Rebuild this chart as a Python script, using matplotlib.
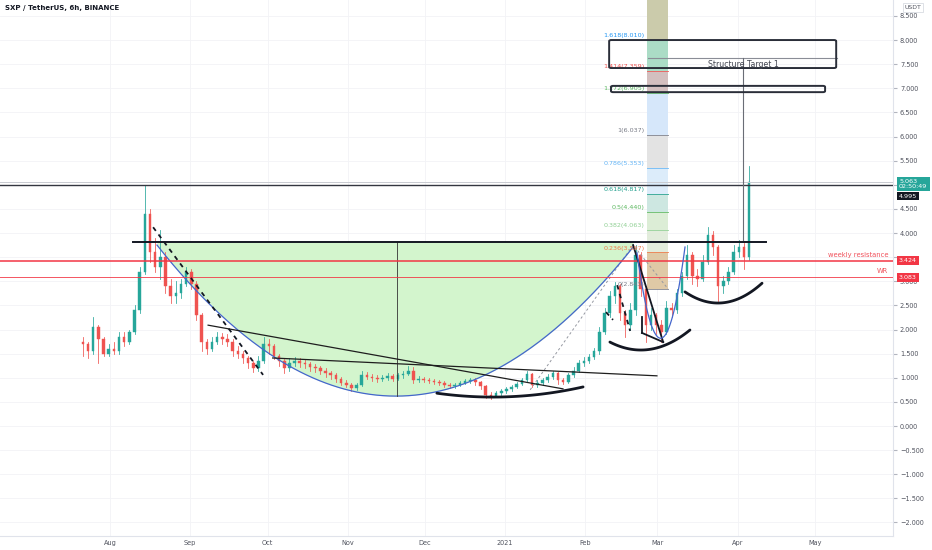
import matplotlib
matplotlib.use("Agg")
import matplotlib.pyplot as plt
import matplotlib.dates as mdates
from matplotlib.patches import Rectangle, FancyBboxPatch
from matplotlib.transforms import blended_transform_factory
import numpy as np
import pandas as pd

# ---------------- data ----------------
title = "SXP / TetherUS, 6h, BINANCE"
candle_start = "2020-07-21"
candle_days = 2
first_open = 1.75
closes = [1.70, 1.55, 2.05, 1.80, 1.50, 1.60, 1.55, 1.85, 1.75, 1.95,
          2.40, 3.20, 4.40, 3.60, 3.30, 3.50, 2.90, 2.70, 2.75, 2.95,
          3.20, 2.95, 2.30, 1.75, 1.60, 1.75, 1.85, 1.80, 1.75, 1.55,
          1.50, 1.40, 1.30, 1.20, 1.35, 1.70, 1.65, 1.45, 1.35, 1.20,
          1.30, 1.35, 1.30, 1.28, 1.22, 1.20, 1.15, 1.10, 1.05, 0.98,
          0.90, 0.85, 0.78, 0.85, 1.05, 1.02, 1.00, 0.98, 1.00, 1.04,
          0.98, 1.05, 1.08, 1.15, 0.95, 0.98, 0.96, 0.94, 0.92, 0.90,
          0.86, 0.82, 0.86, 0.90, 0.93, 0.96, 0.92, 0.82, 0.64, 0.62,
          0.68, 0.72, 0.76, 0.81, 0.88, 0.95, 1.08, 0.84, 0.90, 0.96,
          1.02, 1.10, 0.95, 0.92, 1.05, 1.15, 1.30, 1.35, 1.42, 1.55,
          1.95, 2.35, 2.70, 2.90, 2.35, 2.10, 2.40, 3.55, 2.85, 2.10,
          2.30, 2.10, 1.95, 2.45, 2.40, 2.75, 3.10, 3.55, 3.10, 3.05,
          3.40, 3.95, 3.70, 2.90, 3.00, 3.20, 3.60, 3.70, 3.50, 5.063]
highs = [1.85, 1.75, 2.26, 2.10, 1.85, 1.70, 1.75, 1.95, 1.95, 2.00,
         2.50, 3.30, 4.99, 4.50, 3.90, 4.06, 3.60, 3.05, 3.00, 3.05,
         3.30, 3.25, 3.00, 2.35, 1.80, 1.85, 1.95, 1.92, 1.90, 1.80,
         1.65, 1.55, 1.45, 1.35, 1.45, 1.85, 1.80, 1.70, 1.50, 1.38,
         1.40, 1.42, 1.40, 1.36, 1.32, 1.28, 1.25, 1.20, 1.15, 1.10,
         1.02, 0.95, 0.90, 0.90, 1.15, 1.12, 1.08, 1.06, 1.05, 1.10,
         1.08, 1.10, 1.15, 1.25, 1.22, 1.03, 1.02, 1.00, 0.98, 0.96,
         0.93, 0.89, 0.90, 0.94, 0.97, 1.00, 0.99, 0.94, 0.84, 0.70,
         0.72, 0.76, 0.80, 0.85, 0.92, 1.00, 1.15, 1.10, 0.95, 1.00,
         1.08, 1.15, 1.12, 0.99, 1.10, 1.22, 1.36, 1.42, 1.50, 1.62,
         2.05, 2.45, 2.80, 2.98, 2.95, 2.40, 2.55, 3.75, 3.60, 2.90,
         2.45, 2.35, 2.20, 2.60, 2.55, 2.85, 3.20, 3.75, 3.60, 3.25,
         3.55, 4.12, 4.05, 3.75, 3.10, 3.30, 3.75, 3.85, 3.80, 5.39]
lows = [1.45, 1.40, 1.50, 1.30, 1.45, 1.45, 1.50, 1.50, 1.65, 1.70,
        1.90, 2.35, 3.15, 3.40, 3.20, 3.05, 2.75, 2.55, 2.55, 2.65,
        2.90, 2.85, 2.20, 1.55, 1.50, 1.55, 1.70, 1.70, 1.65, 1.45,
        1.40, 1.30, 1.20, 1.12, 1.15, 1.30, 1.50, 1.38, 1.25, 1.10,
        1.15, 1.25, 1.22, 1.20, 1.15, 1.12, 1.08, 1.02, 0.98, 0.92,
        0.85, 0.80, 0.72, 0.74, 0.82, 0.98, 0.94, 0.92, 0.93, 0.96,
        0.93, 0.95, 1.00, 1.05, 0.90, 0.92, 0.91, 0.89, 0.87, 0.85,
        0.80, 0.78, 0.79, 0.83, 0.87, 0.90, 0.86, 0.76, 0.58, 0.57,
        0.60, 0.65, 0.69, 0.73, 0.78, 0.85, 0.92, 0.80, 0.80, 0.86,
        0.92, 0.98, 0.88, 0.87, 0.90, 1.02, 1.12, 1.25, 1.30, 1.38,
        1.50, 1.90, 2.25, 2.55, 2.20, 1.85, 2.00, 2.30, 2.70, 1.75,
        2.00, 1.90, 1.75, 1.90, 2.25, 2.35, 2.70, 3.05, 2.95, 2.90,
        3.00, 3.35, 3.55, 2.60, 2.75, 2.95, 3.15, 3.50, 3.25, 3.45]

month_ticks = ["2020-08-01", "2020-09-01", "2020-10-01", "2020-11-01", "2020-12-01",
               "2021-01-01", "2021-02-01", "2021-03-01", "2021-04-01", "2021-05-01"]
month_labels = ["Aug", "Sep", "Oct", "Nov", "Dec", "2021", "Feb", "Mar", "Apr", "May"]
y_ticks = [-2.0, -1.5, -1.0, -0.5, 0.0, 0.5, 1.0, 1.5, 2.0, 2.5, 3.0, 3.5, 4.0,
           4.5, 5.0, 5.5, 6.0, 6.5, 7.0, 7.5, 8.0, 8.5]
hidden_ticks = [3.5, 5.0]          # covered by the price labels in the original
x_range = ("2020-06-19 10:00", "2021-05-31 05:00")
y_range = (-2.28, 8.83)

last_price = 5.063
countdown = "02:50:49"
ath_level = 4.995
weekly_res = 3.424
wr_level = 3.083
neckline = 3.81
neck_dates = ("2020-08-10", "2021-04-12")

cup_pts = [("2020-08-19 05:00", 3.75), ("2020-11-20 00:00", 0.62), ("2021-02-19 14:00", 3.71)]
cup_mid_line = ("2020-11-20", 3.81, 0.62)
small_cup_pts = [("2021-02-21 02:00", 3.59), ("2021-03-02 00:00", 1.82), ("2021-03-11 16:00", 3.71)]
base_arcs = [
    [("2020-12-05 14:00", 0.68), ("2020-12-26 05:00", 0.60), ("2021-01-31 05:00", 0.81)],
    [("2021-02-10 14:00", 1.74), ("2021-02-22 07:00", 1.575), ("2021-03-13 14:00", 1.99)],
    [("2021-03-11 16:00", 2.78), ("2021-03-25 07:00", 2.55), ("2021-04-10 12:00", 2.96)],
]
solid_lines = [
    [("2020-09-08", 2.09), ("2021-01-23 10:00", 0.77)],
    [("2020-10-03", 1.41), ("2021-02-28 19:00", 1.04)],
]
thick_lines = [
    [("2021-02-19 14:00", 3.75), ("2021-03-03 05:00", 1.74)],
    [("2021-02-23 00:00", 1.93), ("2021-03-03 05:00", 1.74)],
    [("2021-02-23 00:00", 2.26), ("2021-02-23 00:00", 1.93)],
]
dashed_black = [
    [("2020-08-17 17:00", 4.12), ("2020-09-29 07:00", 1.06)],
    [("2021-02-13 10:00", 2.92), ("2021-02-18 10:00", 1.97)],
    [("2021-02-09 02:00", 2.36), ("2021-02-11 19:00", 2.20)],
]
fib_trend = [("2021-01-10 17:00", 0.75), ("2021-02-19 14:00", 3.75), ("2021-03-05 02:00", 2.843)]

fib_box_dates = ("2021-02-24 19:00", "2021-03-05 02:00")
fib_ratios = ["0", "0.236", "0.382", "0.5", "0.618", "0.786", "1", "1.272", "1.414", "1.618", "2.618"]
fib_values = [2.843, 3.597, 4.063, 4.440, 4.817, 5.353, 6.037, 6.905, 7.359, 8.010, 11.205]
fib_text_colors = ["#787b86", "#ef7a4a", "#8fcf93", "#5cb860", "#1f9e8c", "#64b5f6",
                   "#787b86", "#5cb860", "#ef5350", "#2196f3", "#ef5350"]
fib_band_colors = ["#dfc9a6", "#e2ecdc", "#dcedd6", "#cde7e1", "#dcecfa",
                   "#e3e3e3", "#d6e7fa", "#d3bfbf", "#abdcc6", "#cbcbab"]

target_rects = [(("2021-02-10 07:00", 7.42), ("2021-05-09 05:00", 8.00)),
                (("2021-02-11 00:00", 6.92), ("2021-05-04 22:00", 7.05))]
target_line = ("2021-02-25 10:00", "2021-05-09 14:00", 7.627)
target_vline = ("2021-04-03 05:00", 7.627, 3.85)
target_text = ("Structure Target 1", "2021-04-03 05:00", 7.50)


def D(s):
    return mdates.date2num(pd.Timestamp(s))


def pts(lst):
    return [D(d) for d, _ in lst], [p for _, p in lst]


# ---------------- figure ----------------
W, H = 932, 550
fig = plt.figure(figsize=(W / 100, H / 100), dpi=100)
fig.patch.set_facecolor("white")
ax = fig.add_axes([0, 1 - 536 / H, 893 / W, 536 / H])
ax.set_xlim(D(x_range[0]), D(x_range[1]))
ax.set_ylim(*y_range)

# grid
for m in month_ticks:
    ax.axvline(D(m), color="#f2f3f6", lw=0.6, zorder=0)
for yt in y_ticks:
    ax.axhline(yt, color="#f2f3f6", lw=0.6, zorder=0)

# cup arc (parabola through three points) and fill up to the neckline
cx, cy = pts(cup_pts)
coef = np.polyfit(cx, cy, 2)
xs = np.linspace(cx[0], cx[-1], 300)
ys = np.polyval(coef, xs)
ax.fill_between(xs, ys, neckline, color="#d3f5cd", lw=0, zorder=1)
ax.plot(xs, ys, color="#4466cc", lw=0.9, zorder=4)
ax.plot([D(cup_mid_line[0])] * 2, cup_mid_line[1:], color="#333333", lw=0.6, zorder=4)

# fib box
fx0, fx1 = D(fib_box_dates[0]), D(fib_box_dates[1])
for i in range(len(fib_values) - 1):
    ax.add_patch(Rectangle((fx0, fib_values[i]), fx1 - fx0, fib_values[i + 1] - fib_values[i],
                           facecolor=fib_band_colors[i], edgecolor="none", zorder=1.5))
for i in range(len(fib_values) - 1):
    ax.plot([fx0, fx1], [fib_values[i]] * 2, color=fib_text_colors[i], lw=0.7, alpha=0.8, zorder=1.6)
    ax.annotate(f"{fib_ratios[i]}({fib_values[i]:.3f})", xy=(fx0, fib_values[i]),
                xytext=(-2, 4), textcoords="offset pixels", ha="right", va="center",
                fontsize=4.6, color=fib_text_colors[i], zorder=5)
ftx, fty = pts(fib_trend)
ax.plot(ftx, fty, color="#9598a1", lw=0.7, ls=(0, (2.5, 2.5)), zorder=3.5)

# candles
t0 = D(candle_start)
opens = [first_open] + closes[:-1]
for i, (o, h, l, c) in enumerate(zip(opens, highs, lows, closes)):
    x = t0 + candle_days * i + 0.5
    col = "#26a69a" if c >= o else "#ef5350"
    ax.plot([x, x], [l, h], color=col, lw=0.55, zorder=3)
    ax.add_patch(Rectangle((x - 0.5, min(o, c)), 1.0, max(abs(c - o), 0.01),
                           facecolor=col, edgecolor=col, lw=0.3, zorder=3))

# horizontal levels
ax.axhline(last_price, color="#c9cbd1", lw=0.7, zorder=4)
ax.axhline(ath_level, color="#333640", lw=1.0, zorder=4)
ax.axhline(weekly_res, color="#f23645", lw=1.1, zorder=4)
ax.axhline(wr_level, color="#f23645", lw=0.7, alpha=0.85, zorder=4)
ax.plot([D(neck_dates[0]), D(neck_dates[1])], [neckline] * 2, color="#131722", lw=1.4, zorder=4)

# trend lines
for ln in solid_lines:
    lx, ly = pts(ln)
    ax.plot(lx, ly, color="#1e1e1e", lw=0.9, zorder=4)
for ln in thick_lines:
    lx, ly = pts(ln)
    ax.plot(lx, ly, color="#131722", lw=1.3, zorder=4)
for ln in dashed_black:
    lx, ly = pts(ln)
    ax.plot(lx, ly, color="#131722", lw=1.3, ls=(0, (2.5, 2.5)), zorder=4)

# black base arcs
for arc in base_arcs:
    axx, ayy = pts(arc)
    c2 = np.polyfit(axx, ayy, 2)
    xx = np.linspace(axx[0], axx[-1], 100)
    ax.plot(xx, np.polyval(c2, xx), color="#131722", lw=2.0, solid_capstyle="round", zorder=4)

# small blue cup
sx, sy = pts(small_cup_pts)
c3 = np.polyfit(sx, sy, 2)
xx = np.linspace(sx[0], sx[-1], 100)
ax.plot(xx, np.polyval(c3, xx), color="#4466cc", lw=0.9, zorder=4)

# structure target
for (d0, p0), (d1, p1) in target_rects:
    ax.add_patch(FancyBboxPatch((D(d0), p0), D(d1) - D(d0), p1 - p0,
                                boxstyle="round,pad=0,rounding_size=0.8",
                                mutation_aspect=0.03,
                                facecolor="none", edgecolor="#2a2e39", lw=1.4, zorder=5))
ax.plot([D(target_line[0]), D(target_line[1])], [target_line[2]] * 2, color="#8a8d96", lw=0.8, zorder=4)
ax.plot([D(target_vline[0])] * 2, target_vline[1:], color="#6a6d76", lw=0.8, zorder=4)
ax.text(D(target_text[1]), target_text[2], target_text[0], ha="center", va="center",
        fontsize=5.6, color="#434651", zorder=6)

# axes styling
for s in ["top", "left"]:
    ax.spines[s].set_visible(False)
ax.spines["right"].set_color("#e0e3eb")
ax.spines["bottom"].set_color("#e0e3eb")
ax.yaxis.tick_right()
ax.set_yticks(y_ticks)
ax.set_yticklabels(["" if v in hidden_ticks else f"{v:.3f}".replace("-", "\u2212") for v in y_ticks])
ax.tick_params(axis="y", length=3, color="#b2b5be", labelsize=4.7, labelcolor="#50535e", pad=2)
ax.set_xticks([D(m) for m in month_ticks])
ax.set_xticklabels(month_labels)
ax.tick_params(axis="x", length=0, labelsize=4.7, labelcolor="#50535e", pad=3)

# right-axis price labels
bt = blended_transform_factory(ax.transAxes, ax.transData)
ax.annotate(f"{last_price:.3f}\n{countdown}", xy=(1, last_price), xycoords=bt,
            xytext=(6, -2), textcoords="offset pixels", ha="left", va="center",
            fontsize=4.6, color="white", linespacing=1.0, annotation_clip=False,
            bbox=dict(boxstyle="square,pad=0.35", fc="#26a69a", ec="none"))
ax.annotate(f"{ath_level:.3f}", xy=(1, ath_level), xycoords=bt,
            xytext=(6, -11), textcoords="offset pixels", ha="left", va="center",
            fontsize=4.6, color="white", annotation_clip=False,
            bbox=dict(boxstyle="square,pad=0.3", fc="#131722", ec="none"))
for lvl in (weekly_res, wr_level):
    ax.annotate(f"{lvl:.3f}", xy=(1, lvl), xycoords=bt,
                xytext=(6, 0), textcoords="offset pixels", ha="left", va="center",
                fontsize=4.6, color="white", annotation_clip=False,
                bbox=dict(boxstyle="square,pad=0.3", fc="#f23645", ec="none"))
ax.annotate("weekly resistance", xy=(1, weekly_res), xycoords=bt, xytext=(-5, 6),
            textcoords="offset pixels", ha="right", va="center", fontsize=4.9, color="#f0505a")
ax.annotate("WR", xy=(1, wr_level), xycoords=bt, xytext=(-5, 6),
            textcoords="offset pixels", ha="right", va="center", fontsize=4.9, color="#f0505a")

# title and currency
fig.text(5 / W, 1 - 8 / H, title, fontsize=5.0, fontweight="bold", color="#131722",
         ha="left", va="center")
fig.text(913 / W, 1 - 7.5 / H, "USDT", fontsize=4.4, color="#50535e", ha="center", va="center",
         bbox=dict(boxstyle="square,pad=0.3", fc="white", ec="#d1d4dc", lw=0.5))

fig.savefig("out.png", dpi=100, facecolor="white")
